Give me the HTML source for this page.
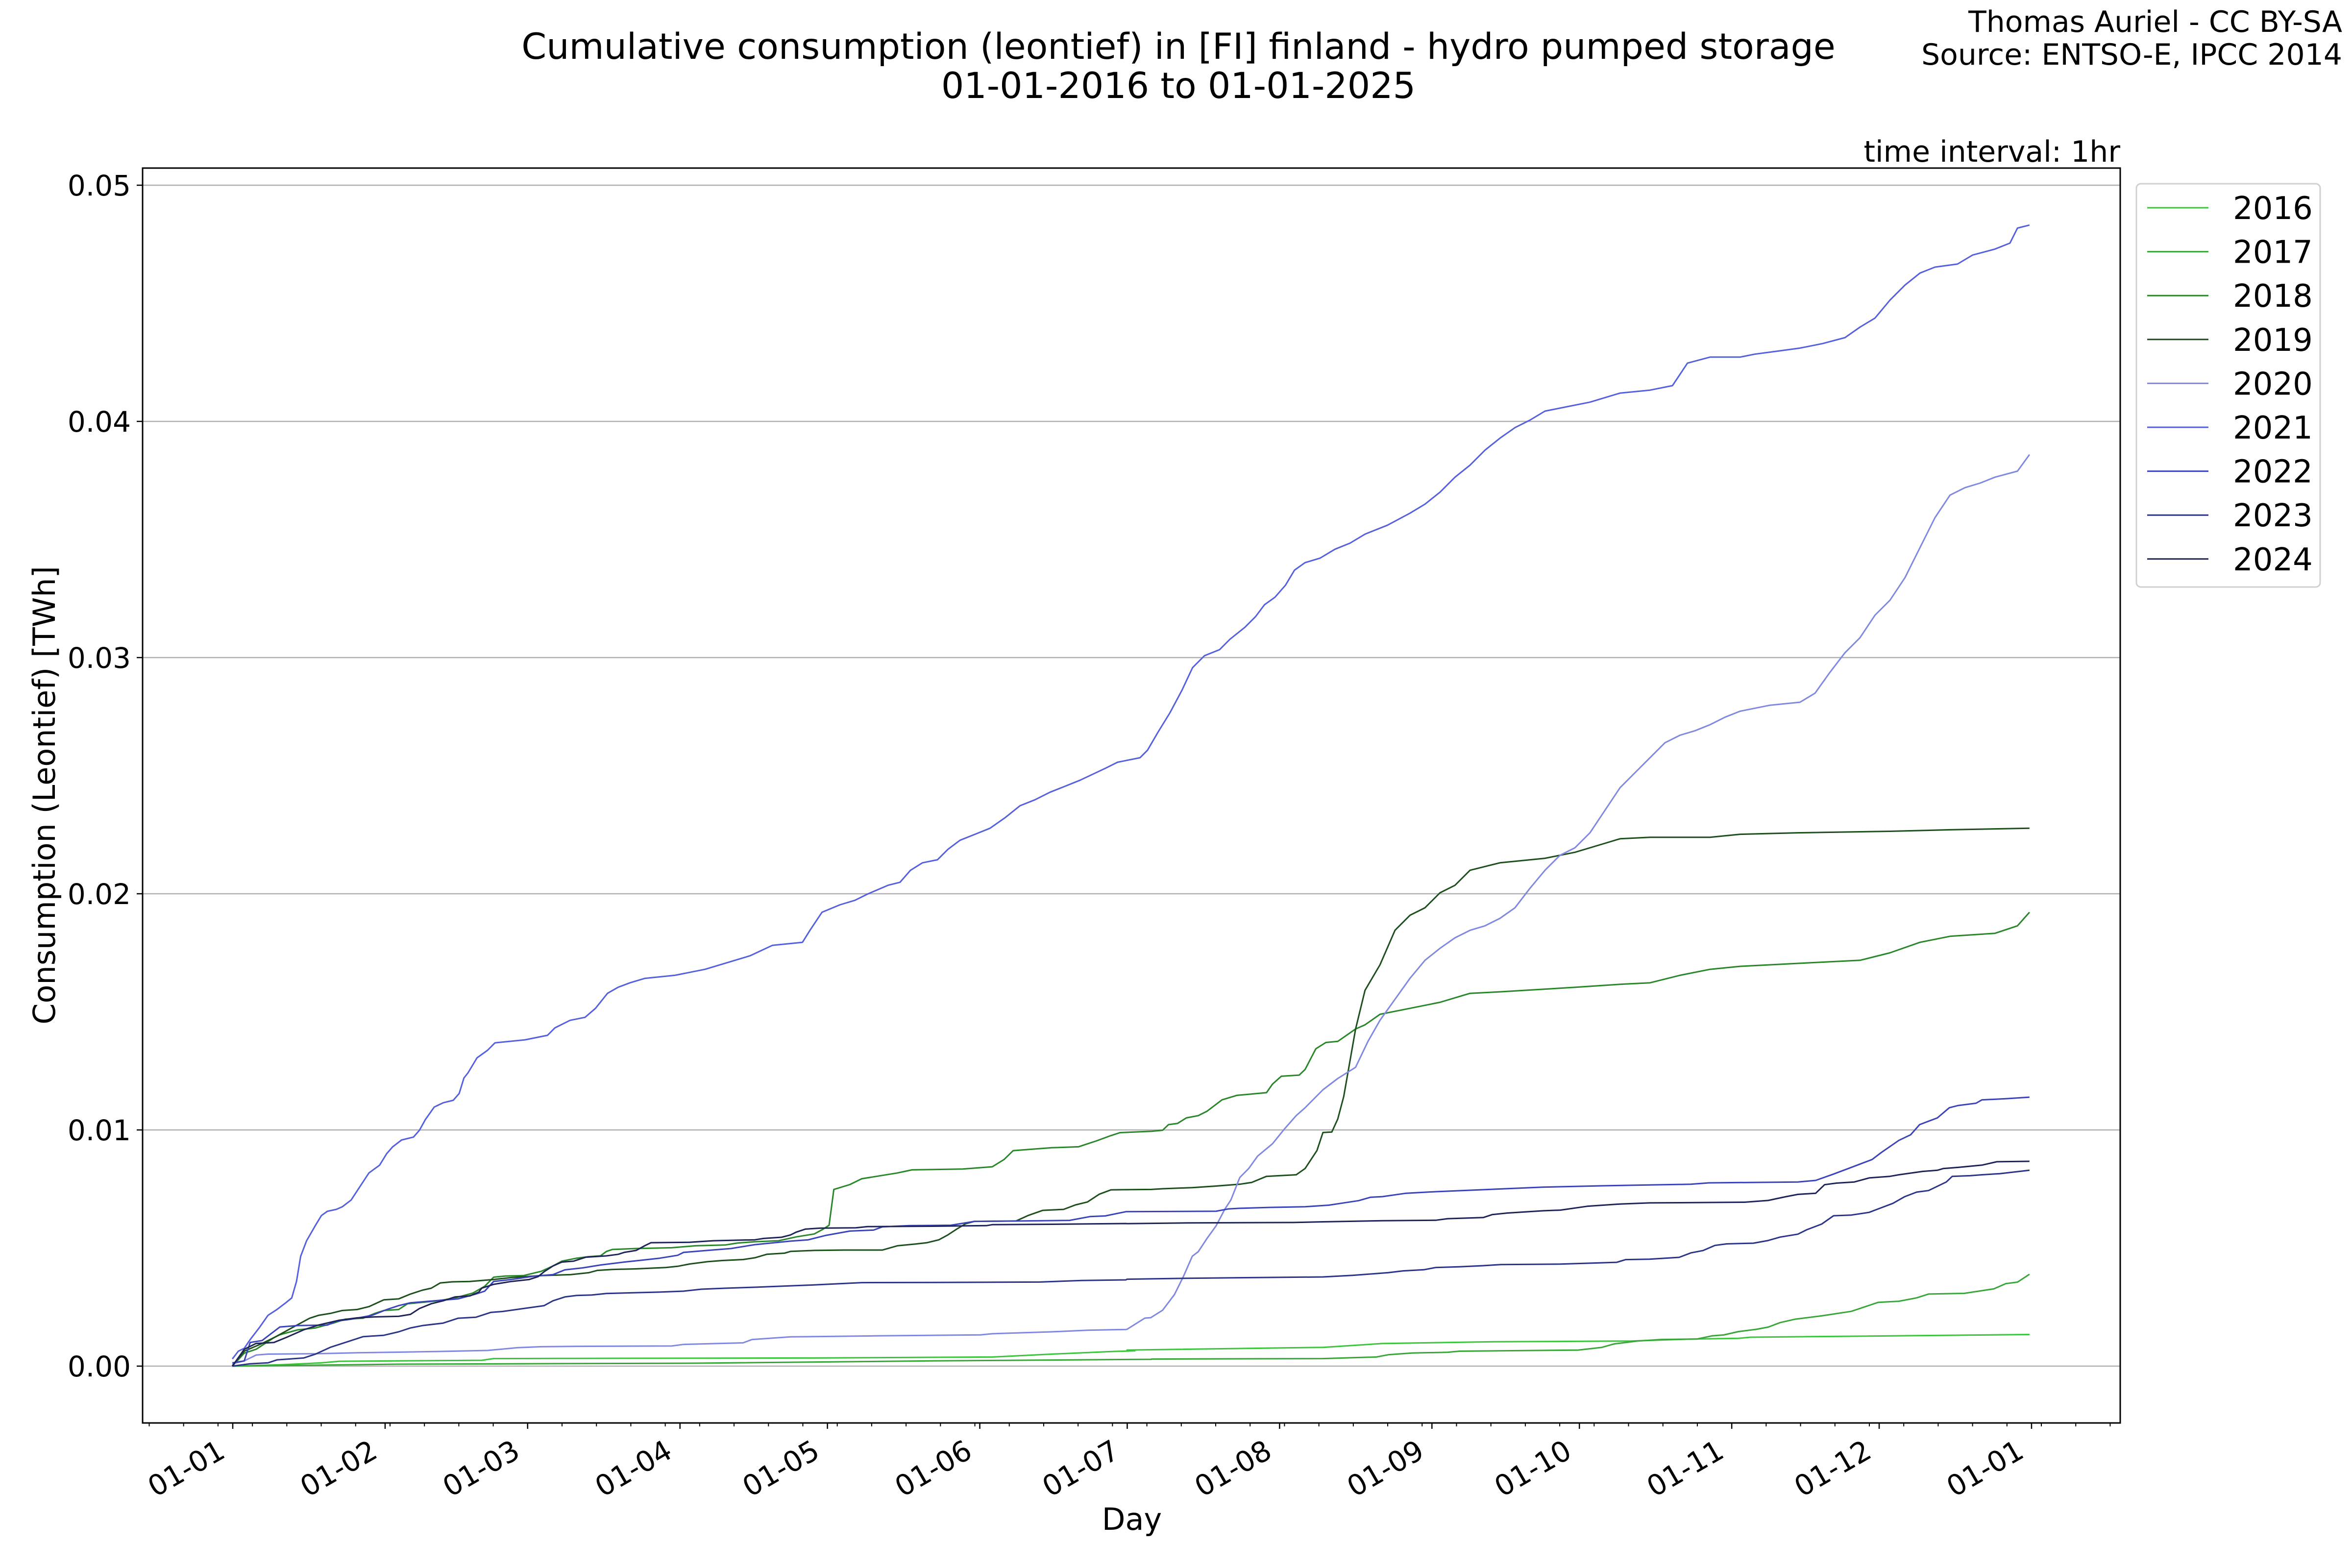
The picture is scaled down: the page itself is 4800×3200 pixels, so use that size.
<!DOCTYPE html>
<html><head><meta charset="utf-8"><style>
html,body{margin:0;padding:0;background:#fff;}
svg{display:block;}
text{font-family:"DejaVu Sans","Liberation Sans",sans-serif;fill:#000;}
</style></head><body>
<svg id="s" xmlns="http://www.w3.org/2000/svg" width="4800" height="3200" viewBox="0 0 4800 3200">
<rect width="4800" height="3200" fill="#fff"/>
<text x="2405" y="120" font-size="73" text-anchor="middle">Cumulative consumption (leontief) in [FI] finland - hydro pumped storage</text>
<text x="2405" y="200" font-size="73" text-anchor="middle">01-01-2016 to 01-01-2025</text>
<text x="4780" y="65" font-size="60" text-anchor="end">Thomas Auriel - CC BY-SA</text>
<text x="4780" y="132" font-size="60" text-anchor="end">Source: ENTSO-E, IPCC 2014</text>
<text x="4327" y="330" font-size="60" text-anchor="end">time interval: 1hr</text>
<g id="grid" stroke="#b0b0b0" stroke-width="2.5"></g>
<g id="series" fill="none" stroke-width="3" stroke-linejoin="round"></g>
<rect x="291" y="343" width="4036" height="2561" fill="none" stroke="#000" stroke-width="3"/>
<g id="ticks" stroke="#000" stroke-width="2.5"></g>
<g id="labels"></g>
<text x="2310" y="3122" font-size="62" text-anchor="middle">Day</text>
<text transform="translate(112,1623) rotate(-90)" font-size="62" text-anchor="middle">Consumption (Leontief) [TWh]</text>
<rect x="4360" y="375" width="375" height="823" rx="9" fill="#fff" stroke="#d0d0d0" stroke-width="3"/>
<g id="legend"></g>
</svg>
<script>
var NS="http://www.w3.org/2000/svg";
function el(p,t,a,txt){var e=document.createElementNS(NS,t);for(var k in a)e.setAttribute(k,a[k]);if(txt!==undefined)e.textContent=txt;document.getElementById(p).appendChild(e);return e;}
var X0=475,PD=10.03,Y0=2788,PV=48.2;
for(var i=0;i<=5;i++){var y=Y0-i*10*PV;el('grid','line',{x1:291,x2:4327,y1:y,y2:y});
el('ticks','line',{x1:279,x2:291,y1:y,y2:y});
el('labels','text',{x:267,y:y+21,'font-size':58,'text-anchor':'end'},(i/100).toFixed(2));}
var md=[0,31,60,91,121,152,182,213,244,274,305,335,366];
for(var i=0;i<md.length;i++){var x=X0+md[i]*PD;el('ticks','line',{x1:x,x2:x,y1:2904,y2:2916});
var m=(i%12)+1;var lab='01-'+(m<10?'0':'')+m;
el('labels','text',{transform:'translate('+(x-12)+',2972) rotate(-30)','font-size':58,'text-anchor':'end'},lab);}
for(var d=-17;d<=384;d+=7){var x=X0+d*PD;if(x<292||x>4326)continue;el('ticks','line',{x1:x,x2:x,y1:2904,y2:2911,'stroke-width':2});}
function cv(sys,px,py){if(sys=='A')return[450+px/0.8253,2200+py/2.529];if(sys=='B')return[2300+px/0.8253,2100+py/2.178];return[px*3.0612,py*3.0622];}
function series(color,segs){var pts=[];segs.forEach(function(s){var a=s[1];for(var i=0;i<a.length;i+=2){var p=cv(s[0],a[i],a[i+1]);pts.push(p[0].toFixed(1)+','+p[1].toFixed(1));}});
el('series','polyline',{points:pts.join(' '),stroke:color});}
var C={2016:'#3cc43c',2017:'#3aa63a',2018:'#2a862a',2019:'#1c4f1c',2020:'#8088e0',2021:'#5560dc',2022:'#3a44b8',2023:'#2c3488',2024:'#1e2358'};
series(C[2016],[['A',[20,1487,100,1480,170,1470,200,1462,300,1460,440,1457,460,1448,600,1447,1000,1445,1300,1440,1400,1425,1500,1412,1540,1408]],['B',[0,1427,330,1415,430,1398,620,1390,850,1387,950,1378,1030,1375,1050,1370,1520,1358]]]);
series(C[2017],[['A',[20,1487,300,1477,800,1472,1200,1460,1568,1452]],['B',[41,1467,330,1465,420,1458,440,1448,480,1440,540,1437,560,1432,760,1427,800,1415,820,1400,860,1387,900,1380,960,1378,985,1364,1005,1360,1030,1345,1060,1335,1080,1325,1100,1305,1125,1290,1170,1275,1220,1255,1265,1215,1300,1210,1330,1195,1350,1178,1410,1175,1440,1163,1460,1155,1480,1132,1500,1125,1520,1090]]]);
series(C[2018],[['A',[20,1487,40,1420,60,1400,90,1340,100,1325,130,1300,160,1290,190,1265,210,1245,240,1240,260,1215,275,1200,300,1195,315,1165,360,1152,380,1143,395,1135,425,1110,445,1075,460,1028,480,1022,510,1020,540,998,560,970,575,945,600,930,620,922,640,918,650,895,660,885,700,880,760,876,800,866,850,862,870,852,900,845,940,840,970,820,1000,805,1015,780,1025,760,1033,575,1060,550,1080,520,1100,510,1140,490,1165,474,1250,470,1300,458,1320,420,1335,375,1400,360,1445,355,1460,340,1475,325,1500,297,1515,282,1568,275]],
['B',[60,450,70,425,85,420,100,395,120,385,135,365,160,315,185,295,235,283,245,245,260,210,290,205,300,180,318,88,335,60,355,55,385,0]],
['D',[910,683,920,676,940,672,960,668,980,662,1000,661,1050,658,1080,656,1100,655,1120,650,1140,646,1160,644,1200,642,1240,640,1260,635,1280,628,1300,624,1330,622,1345,617,1353,608]]]);
series(C[2019],[['A',[20,1485,40,1410,70,1370,90,1340,120,1290,150,1240,165,1225,185,1215,205,1200,230,1195,250,1180,275,1145,300,1140,320,1115,340,1095,355,1085,370,1058,390,1052,420,1050,440,1045,460,1040,490,1030,540,1020,590,1015,620,1005,635,993,660,988,700,985,750,978,770,972,790,960,820,948,845,942,880,937,900,928,920,910,950,904,960,895,1000,890,1050,888,1115,888,1140,866,1170,857,1190,850,1210,835,1225,810,1240,780,1255,752,1270,740,1340,738,1360,710,1385,683,1420,678,1440,655,1460,640,1480,600,1500,577,1568,575]],
['B',[60,710,110,705,150,698,190,690,210,682,235,655,285,648,300,620,320,540,330,460,345,458,355,400,365,300,375,150,385,0]],
['D',[910,660,920,643,930,620,940,610,950,605,960,595,970,590,980,580,1000,575,1010,574,1030,572,1050,568,1070,562,1080,559,1100,558,1140,558,1160,556,1200,555,1260,554,1300,553,1353,552]]]);
series(C[2020],[['A',[20,1475,40,1460,60,1430,80,1425,160,1423,230,1418,300,1415,360,1412,450,1406,500,1392,540,1387,600,1385,760,1383,780,1375,880,1367,895,1350,960,1336,1100,1331,1280,1326,1300,1320,1400,1310,1460,1302,1525,1298]],
['B',[0,1335,30,1285,40,1283,60,1250,80,1180,95,1100,110,1010,120,990,135,930,150,875,165,800,175,760,190,660,205,620,220,565,245,510,265,445,285,385,300,350,330,270,355,220,385,170]],
['D',[912,694,920,680,930,666,940,652,950,640,960,632,970,625,980,620,990,617,1000,612,1010,605,1020,592,1030,580,1040,570,1050,565,1060,555,1070,540,1080,525,1090,515,1100,505,1110,495,1120,490,1130,487,1140,483,1150,478,1160,474,1180,470,1200,468,1210,462,1220,448,1230,435,1240,425,1250,410,1260,400,1270,385,1280,365,1290,345,1300,330,1310,325,1320,322,1330,318,1345,314,1353,303]]]);
series(C[2021],[['A',[20,1450,30,1410,40,1395,50,1350,65,1290,80,1225,95,1195,110,1160,120,1135,128,1050,135,920,145,840,160,760,170,710,180,688,195,678,205,665,220,630,235,560,250,490,268,450,280,390,290,355,305,320,325,305,335,270,345,215,360,150,375,128,392,115,402,80,410,0]],
['D',[312,715,318,705,325,700,330,695,350,693,365,690,370,685,380,680,390,678,397,672,405,662,412,658,420,655,430,652,450,650,470,646,490,640,500,637,515,630,535,628,540,620,548,608,560,603,570,600,578,596,592,590,600,588,607,580,615,575,625,573,632,566,640,560,650,556,660,552,670,545,680,537,690,533,700,528,710,524,720,520,737,512,745,508,760,505,765,500,772,488,780,475,788,460,795,445,803,437,813,433,820,426,830,418,837,411,843,403,850,398,857,390,863,380,870,375,880,372,890,366,900,362,910,356,925,350,940,342,950,336,960,328,970,318,980,310,990,300,1000,292,1010,285,1020,280,1030,274,1040,272,1060,268,1080,262,1100,260,1115,257,1125,242,1140,238,1160,238,1170,236,1185,234,1200,232,1215,229,1230,225,1240,218,1250,212,1260,200,1270,190,1280,182,1290,178,1305,176,1315,170,1330,166,1340,162,1345,152,1353,150]]]);
series(C[2022],[['A',[20,1470,40,1460,50,1365,70,1355,100,1285,130,1278,180,1275,195,1255,220,1245,255,1225,280,1195,300,1175,320,1160,360,1150,400,1140,430,1115,445,1100,460,1050,490,1040,530,1022,560,1015,580,990,610,980,640,965,680,950,710,940,740,930,770,915,780,900,820,890,860,880,900,860,960,842,990,835,1020,812,1060,790,1100,785,1115,768,1160,762,1230,760,1270,740,1350,738,1430,735,1465,715,1490,712,1525,690]],
['B',[0,812,150,810,170,800,190,797,240,793,300,790,340,783,360,775,390,763,410,748,430,745,470,730,520,723,620,712,700,703,800,697,950,690,980,684,1130,680,1160,673,1190,645,1215,620,1240,595,1255,580,1270,550,1300,495,1320,470,1335,425,1350,410,1365,395,1385,350,1400,340,1430,330,1440,315,1480,310,1520,303]]]);
series(C[2023],[['A',[20,1487,50,1475,80,1470,95,1455,140,1445,160,1425,185,1390,215,1360,240,1335,275,1328,300,1310,320,1290,340,1278,375,1265,400,1240,430,1235,455,1210,475,1205,510,1190,545,1175,560,1150,580,1130,600,1122,625,1120,650,1112,700,1108,740,1105,780,1100,810,1090,850,1085,900,1080,1000,1068,1080,1056,1200,1055,1380,1053,1450,1045,1525,1042]],
['B',[0,1112,100,1108,220,1105,330,1102,380,1095,440,1083,465,1075,500,1070,520,1060,560,1057,600,1052,630,1047,730,1045,790,1040,825,1037,840,1025,880,1023,930,1015,950,995,970,985,990,962,1010,955,1055,952,1080,940,1100,925,1130,912,1145,892,1170,867,1190,830,1220,827,1250,815,1270,795,1290,775,1310,745,1330,725,1350,718,1380,680,1390,655,1420,652,1440,648,1470,643,1520,628]]]);
series(C[2024],[['A',[20,1487,40,1400,60,1370,90,1365,110,1340,140,1300,165,1275,200,1250,230,1238,260,1233,300,1230,320,1220,335,1190,355,1165,375,1150,395,1130,420,1125,435,1105,440,1085,460,1065,490,1050,520,1040,535,1025,545,1000,560,970,575,950,595,945,605,935,615,925,650,918,670,910,680,900,700,890,715,865,725,850,790,848,830,840,900,835,915,828,945,822,960,810,970,795,985,780,1010,775,1070,773,1090,767,1200,765,1290,762,1300,757,1400,755,1525,751]],
['B',[0,865,100,862,280,860,330,857,430,852,520,850,540,843,600,838,615,825,640,818,700,808,730,805,775,788,830,778,880,773,1040,770,1080,762,1110,745,1130,735,1160,730,1175,692,1195,685,1225,680,1250,662,1285,655,1300,648,1340,633,1365,628,1375,620,1400,615,1440,605,1465,590,1520,588]]]);
var yrs=[2016,2017,2018,2019,2020,2021,2022,2023,2024];
yrs.forEach(function(y,i){var yy=424+i*89.6;el('legend','line',{x1:4382,x2:4507,y1:yy,y2:yy,stroke:C[y],'stroke-width':3});
el('legend','text',{x:4557,y:yy+23,'font-size':64},String(y));});
</script>
</body></html>
